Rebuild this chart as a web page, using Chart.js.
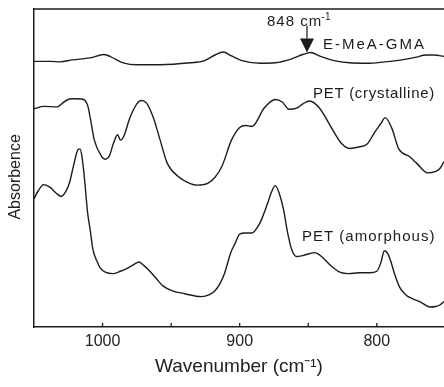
<!DOCTYPE html>
<html>
<head>
<meta charset="utf-8">
<script src="https://cdn.jsdelivr.net/npm/chart.js@4.4.1/dist/chart.umd.min.js"></script>
<style>
html,body{margin:0;padding:0;background:#fff;overflow:hidden}
canvas{display:block}
</style>
</head>
<body>
<canvas id="ir" width="444" height="387"></canvas>
<script>
// wavenumber axis (cm-1), reversed
const xMin=751, xMax=1050;
const xLabelTicks=[1000,900,800];
const tickMarks=[1000,950,900,850,800];

// E-MeA-GMA
const gmaWave=[1050,1038,1031,1022,1009,999,991,985,975,958,936,926,918,912,906,899,885,874,862,854,848,842,832,820,807,794,784,772,764,758,751];
const gmaAbs=[2.715,2.715,2.71,2.73,2.75,2.785,2.74,2.70,2.68,2.68,2.70,2.72,2.78,2.81,2.77,2.725,2.695,2.70,2.74,2.785,2.805,2.77,2.725,2.70,2.695,2.71,2.725,2.755,2.78,2.78,2.765];

// PET (crystalline)
const crystWave=[1050,1043,1033,1029,1026,1022,1015,1011,1009,1006,1001,998,995,992,989,987,984.5,980,975,972,968,963,958,953,945,936,931,923,918,913,906,900,896,891,882,874,869,864,858,854,849,842,832,826,820,813,807,802,797,794,789,784,776,771,763,757,754,751];
const crystAbs=[2.23,2.255,2.25,2.29,2.32,2.333,2.33,2.27,2.14,1.91,1.75,1.715,1.75,1.88,1.965,1.91,1.95,2.14,2.28,2.315,2.29,2.14,1.91,1.68,1.54,1.465,1.45,1.47,1.53,1.64,1.91,2.04,2.06,2.05,2.24,2.325,2.30,2.225,2.24,2.28,2.31,2.24,2.01,1.88,1.825,1.84,1.87,1.98,2.08,2.14,2.03,1.82,1.74,1.675,1.575,1.59,1.62,1.69];

// PET (amorphous)
const amorWave=[1050,1047,1043,1038,1034,1030,1027,1024,1021,1018,1016.5,1015,1013,1011,1009,1007,1004,1002,998,992.5,987,982,977,973.5,970,965.5,960.5,956,949,940,928,922,918,914.5,911,906.5,903.5,900,896,891,887,884,879.5,876.5,874,871,868,865,862,858.5,854,845.5,842,838,833,827,820.5,813,805,800,797,794.5,792,790,787,783.5,779,774,767.5,761.5,757,754,751];
const amorAbs=[1.31,1.39,1.455,1.425,1.37,1.335,1.38,1.48,1.66,1.81,1.82,1.74,1.49,1.18,0.99,0.79,0.67,0.61,0.56,0.545,0.57,0.60,0.64,0.665,0.63,0.57,0.49,0.42,0.37,0.34,0.31,0.33,0.37,0.44,0.55,0.76,0.85,0.95,0.96,0.96,1.02,1.10,1.27,1.39,1.445,1.36,1.20,0.96,0.79,0.72,0.73,0.76,0.74,0.69,0.62,0.56,0.545,0.555,0.555,0.57,0.66,0.78,0.75,0.68,0.54,0.41,0.33,0.29,0.25,0.205,0.21,0.225,0.26];

const markedBand=848;
const ink='#1c1c1c';
const fam='"Liberation Sans", Arial, Helvetica, sans-serif';

function pts(w,a){return w.map((v,i)=>({x:v,y:a[i]}));}
function series(w,a){
  return {data:pts(w,a),borderColor:ink,borderWidth:1.4,pointRadius:0,fill:false,cubicInterpolationMode:'monotone'};
}

function spaced(ctx,txt,x,y,size,sp){
  ctx.font=size+'px '+fam;
  ctx.letterSpacing=sp+'px';
  ctx.fillText(txt,x,y);
  const w=ctx.measureText(txt).width;
  ctx.letterSpacing='0px';
  return w;
}

const irDecor={
  id:'irDecor',
  afterDraw(chart){
    const {ctx,chartArea:a,scales:{x,y}}=chart;
    ctx.save();
    ctx.strokeStyle=ink;ctx.fillStyle=ink;ctx.lineWidth=1.3;
    // frame top
    ctx.beginPath();ctx.moveTo(a.left,a.top);ctx.lineTo(a.right,a.top);ctx.stroke();
    // inward tick marks
    tickMarks.forEach(v=>{
      const px=x.getPixelForValue(v);
      ctx.beginPath();ctx.moveTo(px,a.bottom);ctx.lineTo(px,a.bottom-4);ctx.stroke();
    });
    // arrow at the marked band
    const ax=x.getPixelForValue(markedBand)-4;
    const tip=y.getPixelForValue(gmaAbs[gmaWave.indexOf(markedBand)]);
    ctx.lineWidth=1.2;
    ctx.beginPath();ctx.moveTo(ax,tip-27);ctx.lineTo(ax,tip-13);ctx.stroke();
    ctx.beginPath();ctx.moveTo(ax-7,tip-14);ctx.lineTo(ax+7,tip-14);ctx.lineTo(ax,tip);ctx.closePath();ctx.fill();
    // labels
    ctx.textBaseline='alphabetic';ctx.textAlign='left';
    const w=spaced(ctx,'848 cm',267,26,15,1);
    spaced(ctx,'-1',266+w,20,10,0.5);
    spaced(ctx,'E-MeA-GMA',323,48.5,15,2);
    spaced(ctx,'PET (crystalline)',313,97.5,15,0.7);
    spaced(ctx,'PET (amorphous)',302,241,15,1);
    ctx.restore();
  }
};

new Chart(document.getElementById('ir'),{
  type:'line',
  data:{datasets:[series(gmaWave,gmaAbs),series(crystWave,crystAbs),series(amorWave,amorAbs)]},
  options:{
    responsive:false,animation:false,devicePixelRatio:1,
    layout:{padding:{left:0,top:9,right:0,bottom:0}},
    plugins:{legend:{display:false},tooltip:{enabled:false}},
    scales:{
      x:{
        type:'linear',reverse:true,min:xMin,max:xMax,
        grid:{display:false,drawTicks:false},
        border:{display:true,color:ink,width:1.5},
        afterBuildTicks:s=>{s.ticks=xLabelTicks.map(v=>({value:v}));},
        ticks:{padding:7,color:'#222',font:{family:fam,size:16,lineHeight:1},maxRotation:0,autoSkip:false,callback:v=>String(v)},
        title:{display:true,text:'Wavenumber (cm\u207B\u00B9)',color:'#222',font:{family:fam,size:19,lineHeight:1},padding:{top:0.5,bottom:10.5}}
      },
      y:{
        min:0,max:3.25,
        grid:{display:false,drawTicks:false},
        border:{display:true,color:ink,width:1.5},
        ticks:{display:false},
        title:{display:true,text:'Absorbence    ',color:'#222',font:{family:fam,size:16,lineHeight:1.2},padding:{top:6.4,bottom:8.4}}
      }
    }
  },
  plugins:[irDecor]
});
</script>
</body>
</html>
